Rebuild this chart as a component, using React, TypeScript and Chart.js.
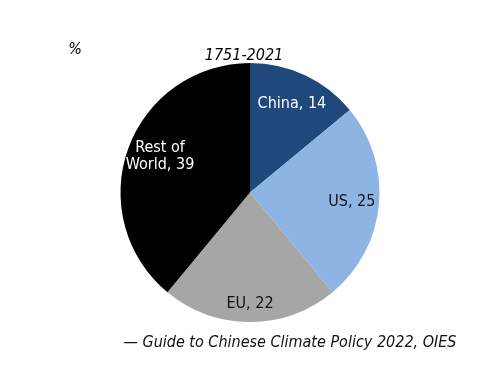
import React, { useEffect, useRef } from "react";
import { Chart, registerables } from "chart.js";

Chart.register(...registerables);

const categories: string[] = ["China", "US", "EU", "Rest of World"];
const shares: number[] = [14, 25, 22, 39];
const sliceColors: string[] = ["#1F497D", "#8DB4E2", "#A6A6A6", "#000000"];
const labelColors: string[] = ["#FFFFFF", "#111111", "#111111", "#FFFFFF"];
const labelRadius: number[] = [0.76, 0.79, 0.86, 0.75];
const labelAngleShift: number[] = [0, 0, 0, 0.04];
const titleText = "1751-2021";
const unitText = "%";
const sourceText = "\u2014 Guide to Chinese Climate Policy 2022, OIES";

const FONT = "'DejaVu Sans Condensed', 'DejaVu Sans', sans-serif";

function wrap(ctx: CanvasRenderingContext2D, text: string, maxW: number): string[] {
  const words = text.split(" ");
  const lines: string[] = [];
  let cur = "";
  for (const w of words) {
    const t = cur ? cur + " " + w : w;
    if (ctx.measureText(t).width > maxW && cur) {
      lines.push(cur);
      cur = w;
    } else cur = t;
  }
  if (cur) lines.push(cur);
  return lines;
}

const labelPlugin = {
  id: "sliceLabels",
  afterDatasetsDraw(chart: any) {
    const ctx: CanvasRenderingContext2D = chart.ctx;
    const meta = chart.getDatasetMeta(0);
    ctx.save();
    ctx.font = `16px ${FONT}`;
    ctx.textAlign = "center";
    ctx.textBaseline = "middle";
    meta.data.forEach((arc: any, i: number) => {
      const p = arc.getProps(["x", "y", "startAngle", "endAngle", "outerRadius"], true);
      const mid = (p.startAngle + p.endAngle) / 2 + labelAngleShift[i];
      const r = p.outerRadius * labelRadius[i];
      const cx = p.x + Math.cos(mid) * r;
      const cy = p.y + Math.sin(mid) * r;
      const text = `${chart.data.labels[i]}, ${chart.data.datasets[0].data[i]}`;
      const lines = wrap(ctx, text, 80);
      const lh = 17;
      ctx.fillStyle = labelColors[i];
      lines.forEach((ln, k) => {
        ctx.fillText(ln, cx, cy + (k - (lines.length - 1) / 2) * lh);
      });
    });
    ctx.restore();
  },
  afterDraw(chart: any) {
    const ctx: CanvasRenderingContext2D = chart.ctx;
    ctx.save();
    ctx.textBaseline = "alphabetic";
    ctx.textAlign = "center";
    ctx.font = `italic 16px ${FONT}`;
    ctx.fillStyle = "#000000";
    ctx.fillText(titleText, 244, 60);
    ctx.fillText(unitText, 75, 54);
    ctx.fillStyle = "#111111";
    ctx.fillText(sourceText, 290, 347);
    ctx.restore();
  },
};

export default function App() {
  const ref = useRef<HTMLCanvasElement | null>(null);
  useEffect(() => {
    if (!ref.current) return;
    const chart = new Chart(ref.current, {
      type: "pie",
      data: {
        labels: categories,
        datasets: [
          {
            data: shares,
            backgroundColor: sliceColors,
            borderWidth: 0,
          },
        ],
      },
      options: {
        animation: false,
        responsive: false,
        devicePixelRatio: 1,
        layout: { padding: { left: 120.5, right: 120.5, top: 63, bottom: 64 } },
        plugins: {
          legend: { display: false },
          tooltip: { enabled: false },
          title: { display: false },
        },
      },
      plugins: [labelPlugin],
    });
    return () => chart.destroy();
  }, []);
  return (
    <div style={{ position: "absolute", left: 0, top: 0, width: 500, height: 386, background: "#fff" }}>
      <canvas ref={ref} width={500} height={386} style={{ width: 500, height: 386 }} />
    </div>
  );
}
